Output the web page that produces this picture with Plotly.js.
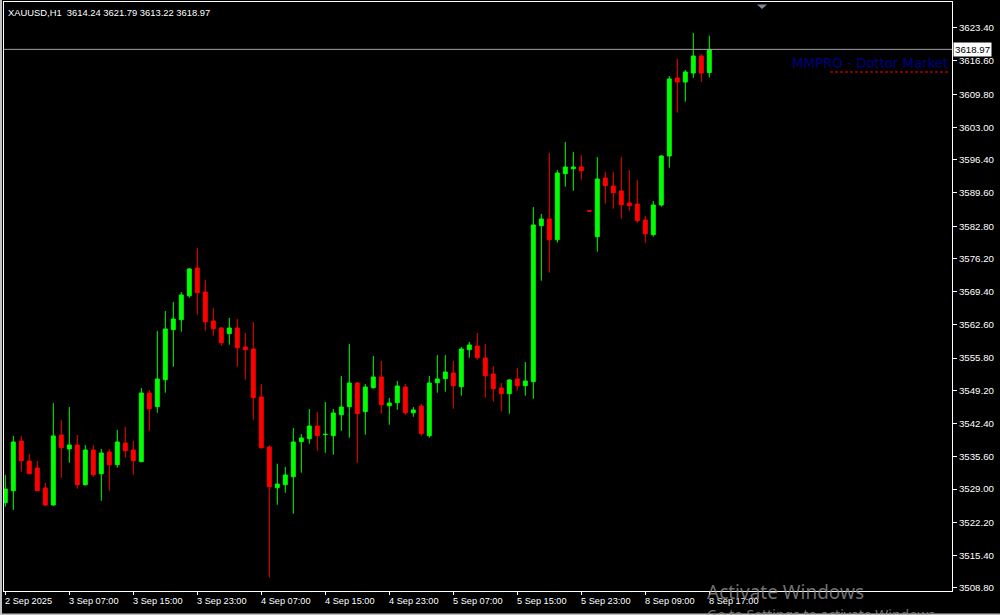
<!DOCTYPE html>
<html>
<head>
<meta charset="utf-8">
<script src="https://cdn.plot.ly/plotly-3.0.1.min.js"></script>
<style>html,body{margin:0;padding:0;background:#000;}#chart{width:1000px;height:615px;}</style>
</head>
<body>
<div id="chart"></div>
<script>
const symbolTitle = "XAUUSD,H1&nbsp; 3614.24 3621.79 3613.22 3618.97";
const brandText = "MMPRO - Dottor Market";

const times = [
"2 Sep 23:00",
"3 Sep 00:00","3 Sep 01:00","3 Sep 02:00","3 Sep 03:00","3 Sep 04:00","3 Sep 05:00","3 Sep 06:00","3 Sep 07:00",
"3 Sep 08:00","3 Sep 09:00","3 Sep 10:00","3 Sep 11:00","3 Sep 12:00","3 Sep 13:00","3 Sep 14:00","3 Sep 15:00",
"3 Sep 16:00","3 Sep 17:00","3 Sep 18:00","3 Sep 19:00","3 Sep 20:00","3 Sep 21:00","3 Sep 22:00","3 Sep 23:00",
"4 Sep 00:00","4 Sep 01:00","4 Sep 02:00","4 Sep 03:00","4 Sep 04:00","4 Sep 05:00","4 Sep 06:00","4 Sep 07:00",
"4 Sep 08:00","4 Sep 09:00","4 Sep 10:00","4 Sep 11:00","4 Sep 12:00","4 Sep 13:00","4 Sep 14:00","4 Sep 15:00",
"4 Sep 16:00","4 Sep 17:00","4 Sep 18:00","4 Sep 19:00","4 Sep 20:00","4 Sep 21:00","4 Sep 22:00","4 Sep 23:00",
"5 Sep 00:00","5 Sep 01:00","5 Sep 02:00","5 Sep 03:00","5 Sep 04:00","5 Sep 05:00","5 Sep 06:00","5 Sep 07:00",
"5 Sep 08:00","5 Sep 09:00","5 Sep 10:00","5 Sep 11:00","5 Sep 12:00","5 Sep 13:00","5 Sep 14:00","5 Sep 15:00",
"5 Sep 16:00","5 Sep 17:00","5 Sep 18:00","5 Sep 19:00","5 Sep 20:00","5 Sep 21:00","5 Sep 22:00","5 Sep 23:00",
"8 Sep 02:00","8 Sep 03:00","8 Sep 04:00","8 Sep 05:00","8 Sep 06:00","8 Sep 07:00","8 Sep 08:00","8 Sep 09:00",
"8 Sep 10:00","8 Sep 11:00","8 Sep 12:00","8 Sep 13:00","8 Sep 14:00","8 Sep 15:00","8 Sep 16:00","8 Sep 17:00"
];

const openP = [
3526.21,3528.66,3538.83,3534.74,3533.31,3529.22,3525.74,3540.06,3537.20,3538.01,
3529.89,3536.99,3532.14,3536.58,3533.98,3538.42,3536.99,3534.60,3548.65,3545.85,
3551.38,3561.61,3563.65,3568.56,3574.23,3569.32,3563.39,3561.95,3560.79,3561.95,
3558.07,3557.66,3547.84,3537.60,3529.28,3529.89,3531.53,3538.69,3539.30,3541.90,
3540.15,3539.92,3544.21,3545.85,3550.70,3544.83,3549.74,3551.93,3546.06,3546.67,
3549.88,3544.62,3545.99,3539.92,3550.76,3551.58,3552.75,3549.94,3557.51,3558.27,
3555.82,3552.54,3549.68,3548.51,3551.52,3550.15,3550.97,3582.89,3584.26,3580.02,
3593.53,3594.55,3594.90,3585.95,3580.64,3592.65,3591.01,3589.99,3587.53,3587.33,
3584.05,3581.05,3587.12,3597.15,3613.11,3612.29,3614.13,3617.61,3614.24
];
const highP = [
3531.88,3539.86,3539.86,3536.17,3534.74,3530.24,3546.61,3543.13,3545.79,3540.06,
3538.01,3538.01,3537.20,3537.20,3541.08,3541.70,3538.83,3549.68,3549.27,3561.34,
3565.43,3567.27,3569.32,3574.23,3578.32,3571.78,3566.05,3562.16,3564.00,3563.80,
3560.93,3563.18,3550.50,3538.01,3534.19,3533.51,3541.49,3540.26,3545.38,3544.77,
3546.81,3545.38,3552.13,3558.68,3550.91,3550.50,3556.23,3555.20,3547.63,3551.11,
3550.50,3545.79,3546.40,3552.13,3556.43,3556.43,3555.20,3558.07,3559.09,3560.93,
3558.68,3554.18,3550.70,3551.52,3553.77,3555.00,3586.71,3585.28,3597.76,3594.28,
3600.01,3597.97,3597.35,3585.95,3596.94,3593.88,3593.88,3596.94,3594.28,3592.24,
3584.87,3587.94,3597.35,3613.52,3617.00,3614.75,3622.32,3618.02,3621.79
];
const lowP = [
3525.39,3524.71,3532.55,3532.14,3528.66,3525.53,3525.60,3531.32,3534.39,3529.07,
3529.69,3531.53,3526.62,3528.66,3533.37,3535.42,3531.94,3534.60,3540.94,3544.62,
3548.72,3554.04,3561.20,3568.15,3564.68,3561.40,3560.38,3558.33,3558.54,3554.04,
3551.38,3543.19,3537.26,3510.86,3525.80,3528.25,3523.96,3532.35,3538.28,3536.85,
3536.44,3536.03,3540.94,3539.51,3534.39,3540.12,3549.53,3544.42,3542.17,3545.24,
3544.21,3543.80,3539.92,3539.51,3548.72,3548.92,3545.44,3548.10,3555.88,3555.47,
3547.69,3546.87,3544.90,3544.40,3549.13,3548.10,3547.49,3571.63,3573.27,3579.41,
3590.87,3590.05,3592.30,3585.85,3577.57,3587.39,3586.37,3584.32,3585.96,3583.50,
3579.41,3580.64,3586.77,3594.76,3606.01,3608.26,3613.11,3612.29,3613.22
];
const closeP = [
3529.01,3538.63,3534.80,3532.14,3528.66,3525.74,3539.86,3537.46,3538.01,3529.89,
3536.99,3531.94,3536.38,3533.98,3538.63,3536.85,3534.80,3548.65,3545.44,3551.52,
3561.75,3563.80,3568.71,3574.03,3569.18,3563.24,3561.81,3558.95,3561.95,3557.92,
3557.51,3547.69,3537.46,3529.48,3530.03,3531.88,3538.63,3539.45,3541.90,3539.92,
3540.20,3544.56,3545.79,3550.70,3544.42,3549.88,3551.93,3546.26,3546.61,3550.09,
3544.62,3545.18,3540.33,3550.70,3551.52,3552.95,3550.15,3557.66,3558.48,3555.88,
3552.19,3549.53,3548.51,3551.31,3550.15,3551.11,3583.03,3584.26,3580.02,3593.67,
3594.90,3594.90,3594.14,3585.85,3592.44,3591.07,3589.64,3587.18,3586.98,3583.91,
3581.25,3587.12,3597.15,3612.91,3612.29,3614.34,3617.61,3614.13,3618.97
];

const yTickVals = [3623.40,3616.60,3609.80,3603.00,3596.40,3589.60,3582.80,3576.20,3569.40,
  3562.60,3555.80,3549.20,3542.40,3535.60,3529.00,3522.20,3515.40,3508.80];
const xTickCats = ["2 Sep 23:00","3 Sep 07:00","3 Sep 15:00","3 Sep 23:00","4 Sep 07:00","4 Sep 15:00",
  "4 Sep 23:00","5 Sep 07:00","5 Sep 15:00","5 Sep 23:00","8 Sep 09:00","8 Sep 17:00"];
const xTickLabels = ["2 Sep 2025","3 Sep 07:00","3 Sep 15:00","3 Sep 23:00","4 Sep 07:00","4 Sep 15:00",
  "4 Sep 23:00","5 Sep 07:00","5 Sep 15:00","5 Sep 23:00","8 Sep 09:00","8 Sep 17:00"];

const lastClose = closeP[closeP.length - 1];
const FONT = "Liberation Sans, Arial, sans-serif";

const trace = {
  type: 'candlestick',
  x: times, open: openP, high: highP, low: lowP, close: closeP,
  increasing: {line: {color: '#00ff00', width: 1}, fillcolor: '#00ff00'},
  decreasing: {line: {color: '#ff0000', width: 1}, fillcolor: '#ff0000'},
  whiskerwidth: 0,
  hoverinfo: 'skip'
};

const annotations = xTickCats.map((c, i) => ({
  xref: 'x', yref: 'paper', x: c, y: 0, xanchor: 'left', yanchor: 'top',
  text: xTickLabels[i], showarrow: false, xshift: -2, yshift: -3,
  font: {family: FONT, size: 9.2, color: '#ffffff'}
}));
annotations.push({
  xref: 'paper', yref: 'paper', x: 0.00422, y: 0.98302, xanchor: 'left', yanchor: 'middle', xshift: -2,
  text: symbolTitle, showarrow: false, font: {family: FONT, size: 9.4, color: '#ffffff'}
});
annotations.push({
  xref: 'paper', yref: 'paper', x: 0.99578, y: 0.89474, xanchor: 'right', yanchor: 'middle', xshift: 2,
  text: brandText, showarrow: false, font: {family: 'DejaVu Sans, Verdana, sans-serif', size: 13.3, color: '#000080'}
});
annotations.push({
  xref: 'paper', yref: 'y', x: 1, y: lastClose, xanchor: 'left', yanchor: 'middle', xshift: 1,
  text: lastClose.toFixed(2), showarrow: false, bgcolor: '#ffffff', borderpad: 1,
  font: {family: FONT, size: 9.7, color: '#000000'}
});
annotations.push({
  xref: 'paper', yref: 'paper', x: 0.74262, y: -0.0017, xanchor: 'left', yanchor: 'middle', xshift: -3,
  text: 'Activate Windows', showarrow: false,
  font: {family: 'Noto Sans, Open Sans, sans-serif', size: 19, color: 'rgba(150,150,150,0.75)'}
});
annotations.push({
  xref: 'paper', yref: 'paper', x: 0.74262, y: -0.03905, xanchor: 'left', yanchor: 'middle', xshift: -3,
  text: 'Go to Settings to activate Windows.', showarrow: false,
  font: {family: 'Noto Sans, Open Sans, sans-serif', size: 14, color: 'rgba(150,150,150,0.75)'}
});

const shapes = [
  {type: 'line', xref: 'paper', yref: 'y', x0: 0, x1: 1, y0: lastClose, y1: lastClose,
   line: {color: '#a0a0a0', width: 1}},
  {type: 'line', xref: 'paper', yref: 'paper', x0: 0.87131, x1: 0.99684, y0: 0.88115, y1: 0.88115,
   line: {color: '#ff0000', width: 1, dash: '3px,2px'}},
  {type: 'path', xref: 'paper', yref: 'paper',
   path: 'M 0.7943 0.99576 L 0.8049 0.99576 L 0.7996 0.98812 Z',
   fillcolor: '#7a8a9a', line: {width: 0}},
  {type: 'rect', xref: 'paper', yref: 'paper', x0: -0.00422, x1: -0.00211, y0: -0.0407, y1: 1.0034,
   fillcolor: '#c0c0c0', line: {width: 0}},
  {type: 'line', xref: 'paper', yref: 'paper', x0: -0.00422, x1: 1.0506, y0: -0.0395, y1: -0.0395,
   line: {color: '#c0c0c0', width: 1.5}}
];

const layout = {
  width: 1000, height: 615,
  margin: {l: 4, r: 48, t: 2, b: 24, pad: 0},
  paper_bgcolor: '#000000', plot_bgcolor: '#000000',
  showlegend: false,
  xaxis: {
    type: 'category', range: [-0.1625, 118.3375], rangeslider: {visible: false},
    showgrid: false, zeroline: false, showline: true, mirror: true, linecolor: '#ffffff', linewidth: 1,
    ticks: 'outside', ticklen: 3, tickcolor: '#ffffff', tickvals: xTickCats, showticklabels: false,
    fixedrange: true
  },
  yaxis: {
    side: 'right', range: [3508.14, 3628.66], tickvals: yTickVals, tickformat: '.2f',
    ticks: 'outside', ticklen: 4, tickcolor: '#ffffff',
    tickfont: {family: FONT, size: 9.7, color: '#ffffff'},
    showgrid: false, zeroline: false, showline: true, mirror: true, linecolor: '#ffffff', linewidth: 1,
    fixedrange: true
  },
  annotations: annotations,
  shapes: shapes
};

Plotly.newPlot('chart', [trace], layout, {staticPlot: true, displayModeBar: false});
</script>
</body>
</html>
